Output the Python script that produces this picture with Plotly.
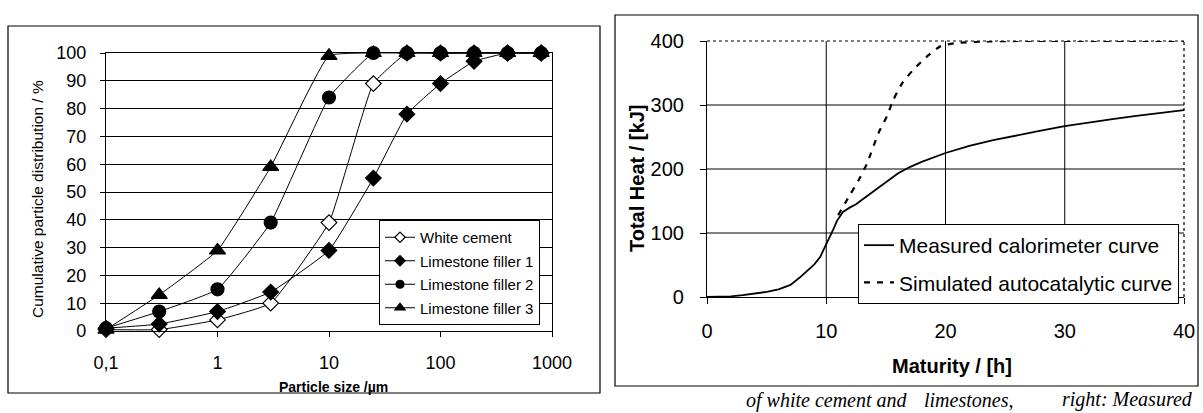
import plotly.graph_objects as go

W, H = 1203, 413

# ---------------- data: left chart (particle size distribution) ----------------
particle_size = [0.1, 0.3, 1, 3, 10, 25, 50, 100, 200, 400, 800]
white_cement = [0.5, 0.5, 4, 10, 39, 89, 100, 100, 100, 100, 100]
limestone_1 = [1, 2.5, 7, 14, 29, 55, 78, 89, 97, 100, 100]
limestone_2 = [1, 7, 15, 39, 84, 100, 100, 100, 100, 100, 100]
limestone_3 = [0.5, 13, 29, 59, 99, 100, 100, 100, 100, 100, 100]
size_ticks = [0.1, 1, 10, 100, 1000]
size_tick_labels = ["0,1", "1", "10", "100", "1000"]
pct_ticks = [0, 10, 20, 30, 40, 50, 60, 70, 80, 90, 100]

# ---------------- data: right chart (heat of hydration) ----------------
measured_t = [0, 1, 2, 3, 4, 5, 6, 7, 7.75, 8.5, 9, 9.5, 10, 10.3, 10.6, 10.9,
              11.4, 12, 12.5, 13, 14, 15, 16, 17, 18, 20, 22, 24, 26, 28, 30,
              32, 34, 36, 38, 40]
measured_q = [0, 0, 1, 3, 5, 8, 12, 19, 30, 42, 51, 63, 82, 93, 106, 119,
              133, 140, 145, 152, 166, 180, 193, 203, 211, 225, 236, 245, 253,
              260, 267, 273, 278, 283, 288, 292]
sim_t = [11, 12, 12.7, 13.4, 14.4, 15.1, 15.6, 16.4, 17.3, 18.4, 19.6, 21, 23,
         26, 30, 35, 40]
sim_q = [128, 160, 182, 208, 257, 283, 307, 335, 355, 375, 392, 397, 399,
         400, 400, 400, 400]
heat_ticks = [0, 100, 200, 300, 400]
heat_grid = [100, 200, 300]
time_ticks = [0, 10, 20, 30, 40]
time_grid = [10, 20, 30]

FONT = "Liberation Sans, Arial, sans-serif"
SERIF = "Liberation Serif, Times New Roman, serif"

fig = go.Figure()

series = [
    ("White cement", white_cement, "diamond", 12, "white", 8),
    ("Limestone filler 1", limestone_1, "diamond", 12, "black", 8),
    ("Limestone filler 2", limestone_2, "circle", 13, "black", 8),
    ("Limestone filler 3", limestone_3, "triangle-up", 14, "black", 9),
]

for name, vals, symbol, size, fill, lsize in series:
    fig.add_trace(go.Scatter(
        x=particle_size, y=vals, name=name, mode="lines+markers",
        line=dict(color="black", width=1, shape="spline", smoothing=0.35),
        marker=dict(symbol=symbol, size=size, color=fill,
                    line=dict(color="black", width=1.2)),
        xaxis="x", yaxis="y", cliponaxis=False, showlegend=False,
    ))
for name, vals, symbol, size, fill, lsize in series:
    # legend entry only (smaller symbol, like the original legend)
    fig.add_trace(go.Scatter(
        x=[None], y=[None], name=name, mode="lines+markers",
        line=dict(color="black", width=1),
        marker=dict(symbol=symbol, size=lsize, color=fill,
                    line=dict(color="black", width=1.2)),
        xaxis="x", yaxis="y", legend="legend", legendgroup=name,
    ))

fig.add_trace(go.Scatter(
    x=measured_t, y=measured_q, name="Measured calorimeter curve", mode="lines",
    line=dict(color="black", width=1.8), xaxis="x2", yaxis="y2",
    legend="legend2", legendgroup="m"))
fig.add_trace(go.Scatter(
    x=sim_t, y=sim_q, name="Simulated autocatalytic curve", mode="lines",
    line=dict(color="black", width=2.2, dash="6px,7px", shape="spline", smoothing=0.5),
    xaxis="x2", yaxis="y2", legend="legend2", legendgroup="s"))

shapes = []
# frames around each chart
shapes.append(dict(type="rect", xref="paper", yref="paper",
                   x0=8 / W, x1=600 / W, y0=1 - 393 / H, y1=1 - 26 / H,
                   line=dict(color="black", width=1.2), layer="below"))
shapes.append(dict(type="rect", xref="paper", yref="paper",
                   x0=615 / W, x1=1198 / W, y0=1 - 386 / H, y1=1 - 15 / H,
                   line=dict(color="black", width=1.2), layer="below"))
# right chart gridlines
for g in heat_grid:
    shapes.append(dict(type="line", xref="x2 domain", yref="y2", x0=0, x1=1, y0=g, y1=g,
                       line=dict(color="black", width=1), layer="below"))
for g in time_grid:
    shapes.append(dict(type="line", xref="x2", yref="y2 domain", x0=g, x1=g, y0=0, y1=1,
                       line=dict(color="black", width=1), layer="below"))
# dotted top/right border of the right plot area
shapes.append(dict(type="line", xref="x2 domain", yref="y2 domain", x0=0, x1=1, y0=1, y1=1,
                   line=dict(color="black", width=1.2, dash="dot"), layer="below"))
shapes.append(dict(type="line", xref="x2 domain", yref="y2 domain", x0=1, x1=1, y0=0, y1=1,
                   line=dict(color="black", width=1.2, dash="dot"), layer="below"))

cap_font = dict(family=SERIF, size=20, color="black")
annotations = [
    dict(text="Cumulative particle distribution / %", xref="paper", yref="paper",
         x=38 / W, y=1 - 199 / H, textangle=-90, showarrow=False,
         font=dict(family=FONT, size=15.5, color="black"), xanchor="center", yanchor="middle"),
    dict(text="<b>Particle size /µm</b>", xref="paper", yref="paper",
         x=333 / W, y=1 - 387 / H, showarrow=False,
         font=dict(family=FONT, size=14, color="black"), xanchor="center", yanchor="middle"),
    dict(text="<b>Total Heat / [kJ]</b>", xref="paper", yref="paper",
         x=637 / W, y=1 - 179 / H, textangle=-90, showarrow=False,
         font=dict(family=FONT, size=20, color="black"), xanchor="center", yanchor="middle"),
    dict(text="<b>Maturity / [h]</b>", xref="paper", yref="paper",
         x=952 / W, y=1 - 366 / H, showarrow=False,
         font=dict(family=FONT, size=20, color="black"), xanchor="center", yanchor="middle"),
    # caption line partly visible under the charts (justified text: words spread)
    dict(text="<i>of white cement and</i>", xref="paper", yref="paper",
         x=910 / W, y=1 - 400 / H, showarrow=False, font=cap_font,
         xanchor="right", yanchor="middle"),
    dict(text="<i>limestones,</i>", xref="paper", yref="paper",
         x=922 / W, y=1 - 400 / H, showarrow=False, font=cap_font,
         xanchor="left", yanchor="middle"),
    dict(text="<i>right: Measured</i>", xref="paper", yref="paper",
         x=1060 / W, y=1 - 399 / H, showarrow=False, font=cap_font,
         xanchor="left", yanchor="middle"),
]

axis_font = dict(family=FONT, size=18, color="black")
axis_font2 = dict(family=FONT, size=20, color="black")

fig.update_layout(
    width=W, height=H, margin=dict(l=0, r=0, t=0, b=0, autoexpand=False),
    paper_bgcolor="white", plot_bgcolor="rgba(0,0,0,0)",
    font=dict(family=FONT, color="black"),
    xaxis=dict(domain=[106 / W, 552 / W], type="log", range=[-1, 3],
               tickvals=size_ticks, ticktext=size_tick_labels,
               showgrid=False, zeroline=False, showline=True, mirror=True,
               linecolor="black", linewidth=1.2, ticks="outside", ticklen=5,
               tickcolor="black", tickfont=axis_font, ticklabelstandoff=10,
               anchor="y", automargin=False),
    yaxis=dict(domain=[1 - 331 / H, 1 - 53 / H], range=[0, 100],
               tickvals=pct_ticks, showgrid=True, gridcolor="black", gridwidth=1,
               zeroline=False, showline=True, mirror=True, linecolor="black",
               linewidth=1.2, ticks="outside", ticklen=5, tickcolor="black",
               tickfont=axis_font, ticklabelstandoff=10, anchor="x", automargin=False),
    xaxis2=dict(domain=[707 / W, 1184 / W], range=[0, 40], tickvals=time_ticks,
                showgrid=False, zeroline=False, showline=True, linecolor="black",
                linewidth=1.2, ticks="outside", ticklen=6, tickcolor="black",
                tickfont=axis_font2, ticklabelstandoff=10, anchor="y2", automargin=False),
    yaxis2=dict(domain=[1 - 297 / H, 1 - 41 / H], range=[0, 400], tickvals=heat_ticks,
                showgrid=False, zeroline=False, showline=True, linecolor="black",
                linewidth=1.2, ticks="outside", ticklen=6, tickcolor="black",
                tickfont=axis_font2, ticklabelstandoff=12, anchor="x2", automargin=False),
    legend=dict(x=379 / W, y=1 - 220 / H, xanchor="left", yanchor="top",
                bgcolor="white", bordercolor="black", borderwidth=1,
                font=dict(family=FONT, size=15, color="black"),
                tracegroupgap=1, itemwidth=30),
    legend2=dict(x=858 / W, y=1 - 224 / H, xanchor="left", yanchor="top",
                 bgcolor="white", bordercolor="black", borderwidth=1,
                 font=dict(family=FONT, size=21, color="black"),
                 tracegroupgap=7, itemwidth=30),
    shapes=shapes, annotations=annotations, showlegend=True,
)

fig.write_html("out.html", config={"displayModeBar": False})

# remove the browser's default page margin so the figure sits at the window origin
with open("out.html", "r", encoding="utf-8") as f:
    html = f.read()
html = html.replace("<head>", "<head><style>html,body{margin:0;padding:0;overflow:hidden;}</style>", 1)
with open("out.html", "w", encoding="utf-8") as f:
    f.write(html)
